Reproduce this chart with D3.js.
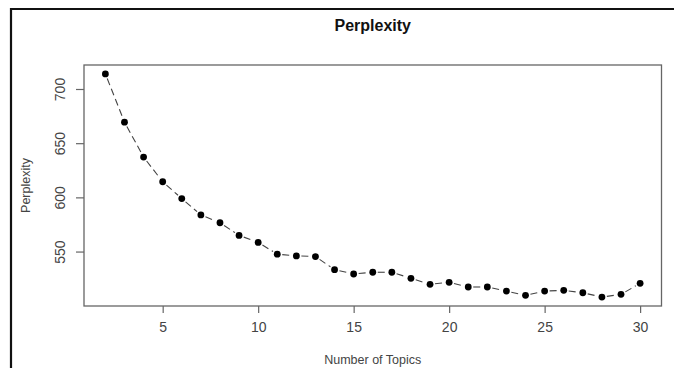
<!DOCTYPE html>
<html>
<head>
<meta charset="utf-8">
<script src="https://cdn.jsdelivr.net/npm/d3@7"></script>
<style>
    body { margin: 0; background: #fff; }
    svg { display: block; font-family: "Liberation Sans", Arial, sans-serif; }
</style>
</head>
<body>
<script>
// number of topics and the perplexity
const topics = [2, 3, 4, 5, 6, 7, 8, 9, 10, 11, 12, 13, 14, 15, 16, 17, 18, 19, 20, 21, 22, 23, 24, 25, 26, 27, 28, 29, 30];
const perplexity = [713.9, 669.4, 637.2, 614.4, 598.9, 583.8, 576.6, 564.9, 558.4, 547.6, 546.0, 545.4, 533.3, 529.3, 530.9,
    530.9, 525.3, 519.8, 521.6, 517.3, 517.3, 513.5, 509.6, 513.5, 514.2, 512.0, 508.0, 510.5, 520.7];
const xTicks = [5, 10, 15, 20, 25, 30];
const yTicks = [550, 600, 650, 700];

const width = 674, height = 368;
const margin = { left: 84, right: 12.5, top: 65, bottom: 62 };

const svg = d3.select("body").append("svg")
    .attr("width", width)
    .attr("height", height);

// outer frame (only top and left visible)
svg.append("path")
    .attr("d", "M11,368V9H674")
    .attr("fill", "none")
    .attr("stroke", "#111")
    .attr("stroke-width", 2.2);

const data = topics.map((t, i) => ({ t: t, p: perplexity[i] }));

// R style 4% padding on both axes
const xr = d3.extent(topics), yr = d3.extent(perplexity);
const xPad = (xr[1] - xr[0]) * 0.04, yPad = (yr[1] - yr[0]) * 0.04;

const x = d3.scaleLinear()
    .domain([xr[0] - xPad, xr[1] + xPad])
    .range([margin.left, width - margin.right]);
const y = d3.scaleLinear()
    .domain([yr[0] - yPad, yr[1] + yPad])
    .range([height - margin.bottom, margin.top]);

const textCol = "#444";
const axisCol = "#666";

// plot box
svg.append("rect")
    .attr("x", x.range()[0])
    .attr("y", y.range()[1])
    .attr("width", x.range()[1] - x.range()[0])
    .attr("height", y.range()[0] - y.range()[1])
    .attr("fill", "none")
    .attr("stroke", axisCol)
    .attr("stroke-width", 1.3);

const xAxis = svg.append("g")
    .attr("transform", "translate(0," + y.range()[0] + ")")
    .call(d3.axisBottom(x).tickValues(xTicks).tickSize(7).tickPadding(9).tickFormat(d3.format("d")));
const yAxis = svg.append("g")
    .attr("transform", "translate(" + x.range()[0] + ",0)")
    .call(d3.axisLeft(y).tickValues(yTicks).tickSize(8).tickFormat(d3.format("d")));

[xAxis, yAxis].forEach(g => {
    g.select(".domain").remove();
    g.selectAll(".tick line").attr("stroke", axisCol).attr("stroke-width", 1.2);
    g.selectAll(".tick text")
        .attr("fill", textCol)
        .style("font-size", "14px")
        .style("font-family", "'Liberation Sans', Arial, sans-serif");
});

// R draws y labels parallel to the axis
yAxis.selectAll(".tick text")
    .attr("x", null)
    .attr("dy", null)
    .attr("text-anchor", "middle")
    .attr("transform", "translate(-23,0) rotate(-90)")
    .attr("dominant-baseline", "middle");

// type = "b": segments with gaps around each point
const gap = 5;
const segs = d3.pairs(data).map(([a, b]) => {
    const x0 = x(a.t), y0 = y(a.p), x1 = x(b.t), y1 = y(b.p);
    const len = Math.hypot(x1 - x0, y1 - y0);
    const ux = (x1 - x0) / len, uy = (y1 - y0) / len;
    return [[x0 + ux * gap, y0 + uy * gap], [x1 - ux * gap, y1 - uy * gap]];
});

svg.append("g").selectAll("path")
    .data(segs)
    .join("path")
    .attr("d", d => d3.line()(d))
    .attr("fill", "none")
    .attr("stroke", "#444")
    .attr("stroke-width", 1.1)
    .attr("stroke-dasharray", "7,4");

svg.append("g").selectAll("circle")
    .data(data)
    .join("circle")
    .attr("cx", d => x(d.t))
    .attr("cy", d => y(d.p))
    .attr("r", 3.4)
    .attr("fill", "#000");

// titles
svg.append("text")
    .attr("x", (x.range()[0] + x.range()[1]) / 2)
    .attr("y", 31)
    .attr("text-anchor", "middle")
    .style("font-size", "16px")
    .style("font-weight", "bold")
    .attr("fill", "#111")
    .text("Perplexity");

svg.append("text")
    .attr("x", (x.range()[0] + x.range()[1]) / 2)
    .attr("y", 364)
    .attr("text-anchor", "middle")
    .style("font-size", "12.5px")
    .attr("fill", textCol)
    .text("Number of Topics");

svg.append("text")
    .attr("transform", "translate(30," + (y.range()[0] + y.range()[1]) / 2 + ") rotate(-90)")
    .attr("text-anchor", "middle")
    .style("font-size", "12.5px")
    .attr("fill", textCol)
    .text("Perplexity");
</script>
</body>
</html>
